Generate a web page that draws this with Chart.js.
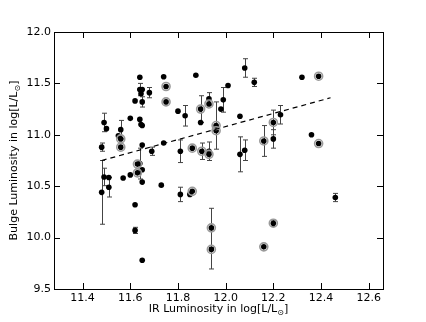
<!DOCTYPE html>
<html>
<head>
<meta charset="utf-8">
<script src="https://cdn.jsdelivr.net/npm/chart.js@4/dist/chart.umd.min.js"></script>
<style>
  html, body { margin: 0; padding: 0; background: #fff; }
</style>
</head>
<body>
<canvas id="chart" width="426" height="322"></canvas>
<script>
// IR luminosity (x) vs bulge luminosity (y), log[L/Lsun]
const irLum = [
  11.48, 11.49, 11.50, 11.55, 11.56, 11.56, 11.56, 11.60, 11.62, 11.64,
  11.64, 11.645, 11.65, 11.65, 11.64, 11.645, 11.65, 11.65, 11.68, 11.69,
  11.74, 11.74, 11.75, 11.75, 11.80, 11.83, 11.81, 11.86, 11.875, 11.895,
  11.895, 11.93, 11.93, 11.90, 11.93, 11.93, 11.96, 11.96, 11.98, 11.99,
  12.01, 12.06, 12.08, 12.12, 12.16, 12.20, 12.20, 12.23, 12.32, 12.39,
  12.36, 12.39, 12.06, 12.08, 12.46, 12.20, 12.16, 11.94, 11.94, 11.48,
  11.49, 11.51, 11.51, 11.57, 11.60, 11.62, 11.62, 11.65, 11.65, 11.65,
  11.63, 11.63, 11.64, 11.73, 11.81, 11.85, 11.86
];
const bulgeLum = [
  10.88, 11.12, 11.06, 10.99, 11.05, 10.96, 10.88, 11.16, 11.33, 11.56,
  11.44, 11.40, 11.44, 11.32, 11.15, 11.10, 11.09, 10.90, 11.41, 10.84,
  11.565, 10.92, 11.47, 11.32, 11.23, 11.185, 10.84, 10.87, 11.58, 11.25,
  11.12, 11.35, 11.30, 10.84, 10.84, 10.81, 11.09, 11.04, 11.25, 11.34,
  11.48, 11.18, 11.65, 11.51, 10.94, 10.96, 11.12, 11.195, 11.56, 11.57,
  11.00, 10.915, 10.81, 10.85, 10.39, 10.14, 9.91, 10.095, 9.885, 10.44,
  10.59, 10.585, 10.49, 10.58, 10.61, 10.32, 10.07, 9.78, 10.54, 10.66,
  10.715, 10.63, 10.72, 10.51, 10.42, 10.42, 10.45
];
const bulgeErr = [
  0.04, 0.09, 0, 0, 0.09, 0, 0, 0, 0, 0,
  0.06, 0, 0, 0.05, 0, 0, 0, 0, 0.05, 0.04,
  0, 0, 0, 0, 0, 0.1, 0.11, 0, 0, 0.13,
  0, 0.06, 0, 0.08, 0.09, 0, 0.23, 0, 0, 0.12,
  0, 0, 0.09, 0.04, 0.15, 0.09, 0.12, 0.09, 0, 0,
  0, 0, 0.17, 0.10, 0.04, 0.03, 0, 0.19, 0.19, 0.31,
  0.085, 0, 0.095, 0, 0, 0, 0.03, 0, 0, 0,
  0, 0, 0.15, 0, 0.07, 0, 0
];
// 1 = point drawn with a grey ring
const ringed = [
  0, 0, 0, 0, 0, 1, 1, 0, 0, 0,
  0, 0, 0, 0, 0, 0, 0, 0, 0, 0,
  0, 0, 1, 1, 0, 0, 0, 1, 0, 1,
  0, 0, 1, 1, 0, 1, 1, 1, 0, 0,
  0, 0, 0, 0, 1, 0, 1, 0, 0, 1,
  0, 1, 0, 0, 0, 1, 1, 1, 1, 0,
  0, 0, 0, 0, 0, 0, 0, 0, 0, 0,
  1, 1, 0, 0, 0, 0, 1
];
// dashed fit line ends
const fitX = [11.48, 12.44];
const fitY = [10.75, 11.36];
const xTicks = [11.4, 11.6, 11.8, 12.0, 12.2, 12.4, 12.6];
const yTicks = [9.5, 10.0, 10.5, 11.0, 11.5, 12.0];

const FONT = 'DejaVu Sans';

const dots = irLum.map((x, i) => ({ x: x, y: bulgeLum[i] }));
const rings = dots.filter((p, i) => ringed[i]);
const fit = fitX.map((x, i) => ({ x: x, y: fitY[i] }));

// error bars under the dots
const errBars = {
  id: 'errBars',
  beforeDatasetsDraw(chart) {
    const ctx = chart.ctx, xs = chart.scales.x, ys = chart.scales.y;
    ctx.save();
    ctx.strokeStyle = '#444';
    ctx.lineWidth = 1;
    bulgeErr.forEach((e, i) => {
      if (!e) return;
      const px = Math.round(xs.getPixelForValue(irLum[i])) + 0.5;
      const y1 = ys.getPixelForValue(bulgeLum[i] + e);
      const y2 = ys.getPixelForValue(bulgeLum[i] - e);
      ctx.beginPath();
      ctx.moveTo(px, y1); ctx.lineTo(px, y2);
      ctx.moveTo(px - 2.5, y1); ctx.lineTo(px + 2.5, y1);
      ctx.moveTo(px - 2.5, y2); ctx.lineTo(px + 2.5, y2);
      ctx.stroke();
    });
    ctx.restore();
  }
};

function drawSubLabel(ctx, main, sub, tail) {
  ctx.font = '11px "' + FONT + '"';
  const w1 = ctx.measureText(main).width;
  const w3 = ctx.measureText(tail).width;
  ctx.font = '8px "' + FONT + '"';
  const w2 = ctx.measureText(sub).width;
  let x = -(w1 + w2 + w3) / 2;
  ctx.textAlign = 'left';
  ctx.textBaseline = 'middle';
  ctx.font = '11px "' + FONT + '"';
  ctx.fillText(main, x, 0);
  x += w1;
  ctx.font = '8px "' + FONT + '"';
  ctx.fillText(sub, x, 4);
  x += w2;
  ctx.font = '11px "' + FONT + '"';
  ctx.fillText(tail, x, 0);
}

// frame, inward ticks on all sides, axis titles
const frame = {
  id: 'frame',
  afterDraw(chart) {
    const ctx = chart.ctx, a = chart.chartArea;
    const xs = chart.scales.x, ys = chart.scales.y;
    ctx.save();
    ctx.strokeStyle = '#000';
    ctx.lineWidth = 1;
    ctx.strokeRect(Math.round(a.left) + 0.5, Math.round(a.top) + 0.5,
                   Math.round(a.right - a.left), Math.round(a.bottom - a.top));
    ctx.beginPath();
    xTicks.forEach(v => {
      const px = Math.round(xs.getPixelForValue(v)) + 0.5;
      ctx.moveTo(px, a.bottom); ctx.lineTo(px, a.bottom - 6);
      ctx.moveTo(px, a.top); ctx.lineTo(px, a.top + 6);
    });
    yTicks.forEach(v => {
      const py = Math.round(ys.getPixelForValue(v)) + 0.5;
      ctx.moveTo(a.left, py); ctx.lineTo(a.left + 6, py);
      ctx.moveTo(a.right, py); ctx.lineTo(a.right - 6, py);
    });
    ctx.stroke();

    ctx.fillStyle = '#000';
    ctx.save();
    ctx.translate((a.left + a.right) / 2, 309);
    drawSubLabel(ctx, 'IR Luminosity in log[L/L', '\u2299', ']');
    ctx.restore();
    ctx.save();
    ctx.translate(14, (a.top + a.bottom) / 2);
    ctx.rotate(-Math.PI / 2);
    drawSubLabel(ctx, 'Bulge Luminosity in log[L/L', '\u2299', ']');
    ctx.restore();
    ctx.restore();
  }
};

new Chart(document.getElementById('chart'), {
  type: 'scatter',
  data: {
    datasets: [
      {
        type: 'line', data: fit,
        borderColor: '#000', borderWidth: 1.2, borderDash: [5, 4],
        pointRadius: 0, fill: false
      },
      {
        data: rings,
        pointRadius: 4, pointBackgroundColor: 'rgba(0,0,0,0)',
        pointBorderColor: '#9a9a9a', pointBorderWidth: 1.6
      },
      {
        data: dots,
        pointRadius: 2.8, pointBackgroundColor: '#000', pointBorderWidth: 0
      }
    ]
  },
  options: {
    responsive: false,
    devicePixelRatio: 1,
    animation: false,
    layout: { padding: { left: 0, top: 32, right: 43, bottom: 0 } },
    plugins: { legend: { display: false }, tooltip: { enabled: false } },
    scales: {
      x: {
        type: 'linear', min: 11.28, max: 12.66,
        afterBuildTicks: s => { s.ticks = xTicks.map(v => ({ value: v })); },
        afterFit: s => { s.height = 33; },
        grid: { display: false, drawTicks: false },
        border: { display: false },
        ticks: {
          color: '#000', padding: 3, maxRotation: 0, autoSkip: false,
          font: { family: FONT, size: 11 },
          callback: v => Number(v).toFixed(1)
        }
      },
      y: {
        type: 'linear', min: 9.5, max: 12.0,
        afterBuildTicks: s => { s.ticks = yTicks.map(v => ({ value: v })); },
        afterFit: s => { s.width = 54; },
        grid: { display: false, drawTicks: false },
        border: { display: false },
        ticks: {
          color: '#000', padding: 3, autoSkip: false,
          font: { family: FONT, size: 11 },
          callback: v => Number(v).toFixed(1)
        }
      }
    }
  },
  plugins: [errBars, frame]
});
</script>
</body>
</html>
